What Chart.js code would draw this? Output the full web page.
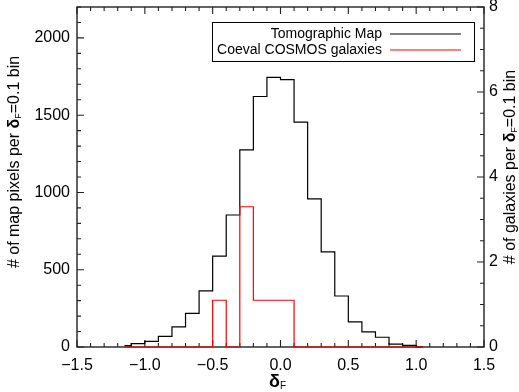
<!DOCTYPE html>
<html>
<head>
<meta charset="utf-8">
<script src="https://cdn.jsdelivr.net/npm/chart.js@4.4.0/dist/chart.umd.min.js"></script>
<style>
  html, body { margin: 0; padding: 0; background: #fff; }
  #wrap { width: 519px; height: 392px; }
</style>
</head>
<body>
<div id="wrap"><canvas id="hist"></canvas></div>
<script>
// bin centres (delta_F), 0.1 wide
const binCenters = [-1.15, -1.05, -0.95, -0.85, -0.75, -0.65, -0.55, -0.45, -0.35, -0.25, -0.15, -0.05,
                    0.05, 0.15, 0.25, 0.35, 0.45, 0.55, 0.65, 0.75, 0.85, 0.95, 1.05]
// map pixels per bin (left axis)
const mapPixels = [9, 22, 37, 69, 130, 217, 363, 588, 854, 1276, 1621, 1744,
                   1730, 1455, 958, 616, 330, 162, 98, 63, 19, 10, 0]
// galaxies per bin (right axis, as drawn)
const galaxies = [0, 0, 0, 0, 0, 0, 0, 1.1, 0, 3.3, 1.1, 1.1,
                  1.1, 0, 0, 0, 0, 0, 0, 0, 0, 0, 0]

const seriesNames = ['Tomographic Map', 'Coeval COSMOS galaxies']
const xTicks = [-1.5, -1.0, -0.5, 0, 0.5, 1.0, 1.5]
const leftTicks = [0, 500, 1000, 1500, 2000]
const rightTicks = [0, 2, 4, 6, 8]

const FONT = "'Liberation Sans', Arial, sans-serif"

function xLabel(v) {
  const s = Math.abs(v).toFixed(1)
  return v < 0 ? '\u2212' + s : s
}

function steps(lo, hi, n) {
  const out = []
  for (let k = 0; k <= n; k++) out.push(lo + (hi - lo) * k / n)
  return out
}

// text runs with a subscript, centred at (x, y), optionally rotated
function drawRuns(ctx, runs, x, y, angle) {
  ctx.save()
  ctx.translate(x, y)
  if (angle) ctx.rotate(angle)
  ctx.textBaseline = 'middle'
  ctx.textAlign = 'left'
  ctx.fillStyle = '#000'
  let w = 0
  runs.forEach(r => { ctx.font = r.font; r.w = ctx.measureText(r.t).width; w += r.w })
  let cx = -w / 2
  runs.forEach(r => {
    ctx.font = r.font
    ctx.fillText(r.t, cx, r.dy || 0)
    cx += r.w
  })
  ctx.restore()
}

function titleRuns(prefix) {
  return [
    { t: prefix, font: `16px ${FONT}` },
    { t: '\u03B4', font: `bold 16px ${FONT}` },
    { t: 'F', font: `9px ${FONT}`, dy: 4 },
    { t: '=0.1 bin', font: `16px ${FONT}` },
  ]
}

const frame = {
  id: 'frame',
  beforeDatasetsDraw(chart) {
    const { ctx, chartArea: a, scales } = chart
    ctx.save()
    ctx.strokeStyle = '#222'
    ctx.lineWidth = 1.4
    ctx.strokeRect(a.left, a.top, a.right - a.left, a.bottom - a.top)
    ctx.lineWidth = 1.1
    ctx.beginPath()
    const xs = scales.x
    steps(-1.5, 1.5, 30).forEach((v, i) => {
      const p = xs.getPixelForValue(v), len = i % 5 === 0 ? 7 : 4
      ctx.moveTo(p, a.bottom); ctx.lineTo(p, a.bottom - len)
      ctx.moveTo(p, a.top); ctx.lineTo(p, a.top + len)
    })
    steps(0, 2200, 22).forEach((v, i) => {
      const p = scales.y.getPixelForValue(v), len = i % 5 === 0 ? 7 : 4
      ctx.moveTo(a.left, p); ctx.lineTo(a.left + len, p)
    })
    steps(0, 8, 16).forEach((v, i) => {
      const p = scales.y2.getPixelForValue(v), len = i % 4 === 0 ? 7 : 4
      ctx.moveTo(a.right, p); ctx.lineTo(a.right - len, p)
    })
    ctx.stroke()
    ctx.restore()
  },
  afterDraw(chart) {
    const { ctx, chartArea: a } = chart
    // legend box
    ctx.save()
    ctx.strokeStyle = '#000'
    ctx.lineWidth = 1
    ctx.strokeRect(212.5, 22.5, 262, 39)
    ctx.font = `14px ${FONT}`
    ctx.textAlign = 'right'
    ctx.textBaseline = 'middle'
    ctx.fillStyle = '#000'
    chart.data.datasets.forEach((ds, i) => {
      const y = 34 + i * 16
      ctx.fillText(ds.label, 382, y)
      ctx.strokeStyle = ds.borderColor
      ctx.lineWidth = 1.2
      ctx.beginPath(); ctx.moveTo(390, y); ctx.lineTo(461, y); ctx.stroke()
    })
    ctx.restore()

    // axis titles
    drawRuns(ctx, [
      { t: '\u03B4', font: `bold 18px ${FONT}` },
      { t: 'F', font: `10px ${FONT}`, dy: 4 },
    ], (a.left + a.right) / 2 - 3, 382, 0)
    drawRuns(ctx, titleRuns('# of map pixels per '), 15, 162, -Math.PI / 2)
    drawRuns(ctx, titleRuns('# of galaxies per '), 511, 167, -Math.PI / 2)
  },
}

const tickFont = { family: FONT, size: 16 }

new Chart(document.getElementById('hist'), {
  type: 'line',
  data: {
    datasets: [
      { label: seriesNames[0], yAxisID: 'y', order: 1,
        data: binCenters.map((x, i) => ({ x, y: mapPixels[i] })),
        borderColor: '#000', borderWidth: 1.2, stepped: 'middle', pointRadius: 0, fill: false, clip: 4 },
      { label: seriesNames[1], yAxisID: 'y2', order: 0,
        data: binCenters.map((x, i) => ({ x, y: galaxies[i] })),
        borderColor: '#ff0000', borderWidth: 1.2, stepped: 'middle', pointRadius: 0, fill: false, clip: 4 },
    ],
  },
  options: {
    responsive: true, maintainAspectRatio: false, animation: false,
    layout: { padding: { top: 7, left: 0, right: 0, bottom: 0 } },
    plugins: { legend: { display: false }, tooltip: { enabled: false } },
    scales: {
      x: {
        type: 'linear', min: -1.5, max: 1.5,
        afterBuildTicks: s => { s.ticks = xTicks.map(value => ({ value })) },
        afterFit: s => { s.height = 45; s.paddingLeft = s.paddingRight = 0 },
        grid: { display: false, drawTicks: false }, border: { display: false },
        ticks: { callback: v => xLabel(v), font: tickFont, color: '#000', padding: 9, maxRotation: 0, autoSkip: false },
      },
      y: {
        position: 'left', min: 0, max: 2200,
        afterBuildTicks: s => { s.ticks = leftTicks.map(value => ({ value })) },
        afterFit: s => { s.width = 77; s.paddingTop = s.paddingBottom = 0 },
        grid: { display: false, drawTicks: false }, border: { display: false },
        ticks: { callback: v => String(v), font: tickFont, color: '#000', padding: 7 },
      },
      y2: {
        position: 'right', min: 0, max: 8,
        afterBuildTicks: s => { s.ticks = rightTicks.map(value => ({ value })) },
        afterFit: s => { s.width = 35; s.paddingTop = s.paddingBottom = 0 },
        grid: { display: false, drawTicks: false }, border: { display: false },
        ticks: { callback: v => String(v), font: tickFont, color: '#000', padding: 5 },
      },
    },
  },
  plugins: [frame],
})
</script>
</body>
</html>
